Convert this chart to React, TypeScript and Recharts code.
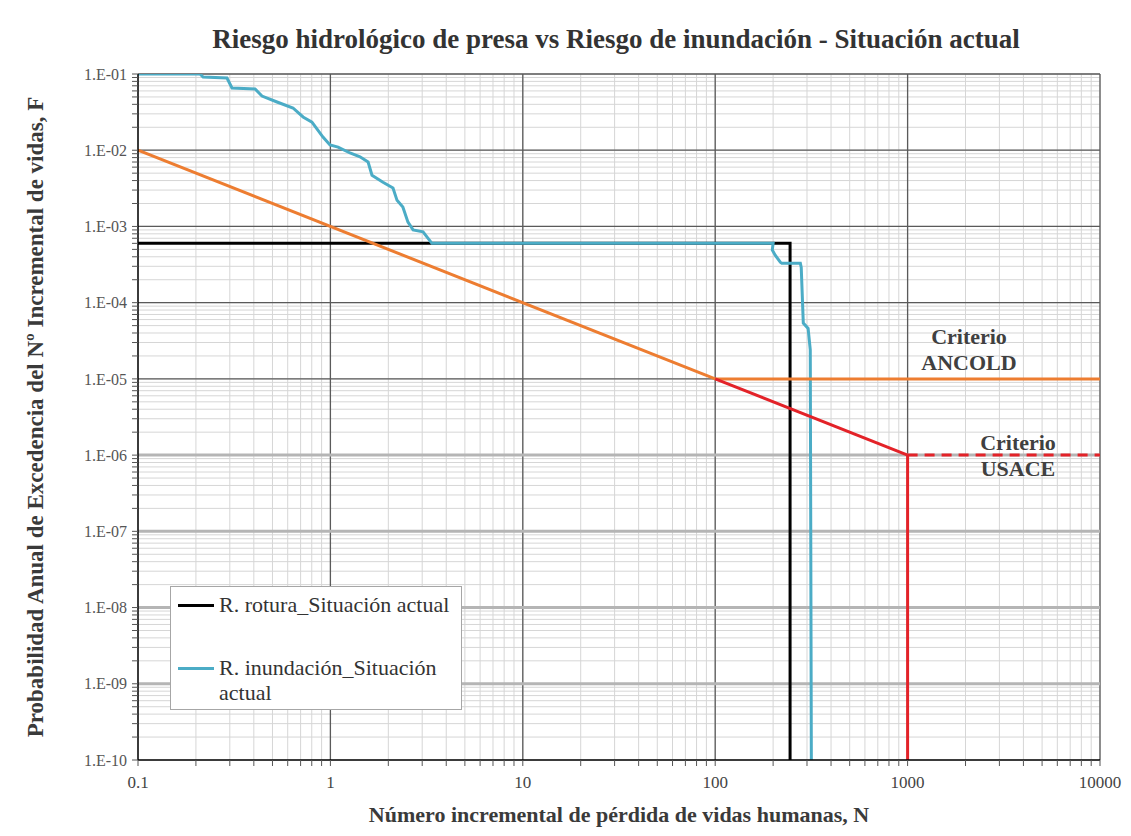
import { CartesianGrid, Label, Legend, Line, LineChart, ReferenceLine, XAxis, YAxis } from "recharts";

const W = 1131;
const H = 836;
const serif = '"Liberation Serif", "DejaVu Serif", serif';

// axis decades and their labels
const xDecades = [0.1, 1, 10, 100, 1000, 10000];
const xLabels = ["0.1", "1", "10", "100", "1000", "10000"];
const yDecades = [1e-10, 1e-9, 1e-8, 1e-7, 1e-6, 1e-5, 1e-4, 1e-3, 1e-2, 1e-1];
const yLabels = ["1.E-10", "1.E-09", "1.E-08", "1.E-07", "1.E-06", "1.E-05", "1.E-04", "1.E-03", "1.E-02", "1.E-01"];

// R. rotura_Situación actual
const roturaPoints = [
  { x: 0.1, y: 6e-4 },
  { x: 245, y: 6e-4 },
  { x: 245, y: 1e-10 },
];

// R. inundación_Situación actual
const inundacionPoints = [
  { x: 0.1, y: 0.1 },
  { x: 0.21, y: 0.1 },
  { x: 0.218, y: 0.0913 },
  { x: 0.29, y: 0.0886 },
  { x: 0.308, y: 0.0655 },
  { x: 0.406, y: 0.0636 },
  { x: 0.441, y: 0.0514 },
  { x: 0.528, y: 0.0429 },
  { x: 0.639, y: 0.0358 },
  { x: 0.721, y: 0.0273 },
  { x: 0.802, y: 0.0234 },
  { x: 0.915, y: 0.0149 },
  { x: 0.995, y: 0.0117 },
  { x: 1.096, y: 0.011 },
  { x: 1.265, y: 0.0092 },
  { x: 1.425, y: 0.0082 },
  { x: 1.57, y: 0.007 },
  { x: 1.645, y: 0.0047 },
  { x: 1.876, y: 0.0038 },
  { x: 2.115, y: 0.0032 },
  { x: 2.22, y: 0.0022 },
  { x: 2.38, y: 0.0018 },
  { x: 2.53, y: 0.00114 },
  { x: 2.69, y: 0.0009 },
  { x: 3.03, y: 0.00085 },
  { x: 3.37, y: 0.0006 },
  { x: 200, y: 0.0006 },
  { x: 198, y: 0.00049 },
  { x: 205, y: 0.00042 },
  { x: 218, y: 0.00034 },
  { x: 222, y: 0.00033 },
  { x: 277, y: 0.00033 },
  { x: 280, y: 0.00029 },
  { x: 287, y: 0.000054 },
  { x: 304, y: 0.000046 },
  { x: 312, y: 0.000024 },
  { x: 316, y: 1e-10 },
];

// criteria
const ancoldSlope = [
  { x: 0.1, y: 1e-2 },
  { x: 100, y: 1e-5 },
];
const ancoldFlat = [
  { x: 100, y: 1e-5 },
  { x: 10000, y: 1e-5 },
];
const usaceSlope = [
  { x: 100, y: 1e-5 },
  { x: 1000, y: 1e-6 },
];
const usaceFlat = [
  { x: 1000, y: 1e-6 },
  { x: 10000, y: 1e-6 },
];
const usaceDrop = [
  { x: 1000, y: 1e-6 },
  { x: 1000, y: 1e-10 },
];

const legendItems = [
  { label: "R. rotura_Situación actual", color: "#000000" },
  { label: "R. inundación_Situación actual", color: "#4BACC6" },
];

function minors(decades: number[]) {
  const out: number[] = [];
  for (let i = 0; i < decades.length - 1; i++) {
    for (let k = 2; k <= 9; k++) out.push(Number((decades[i] * k).toPrecision(6)));
  }
  return out;
}

const xTicks = [...xDecades, ...minors(xDecades)].sort((a, b) => a - b);
const yTicks = [...yDecades, ...minors(yDecades)].sort((a, b) => a - b);

const labelFor = (decades: number[], labels: string[]) => (v: number) => {
  const i = decades.findIndex((d) => Math.abs(v / d - 1) < 1e-6);
  return i >= 0 ? labels[i] : "";
};

function XTitle(props: any) {
  const vb = props.viewBox;
  return (
    <text x={vb.x + vb.width / 2} y={vb.y + 62} textAnchor="middle" fontFamily={serif} fontWeight="bold" fontSize={22} fill="#3a3a3a">
      Número incremental de pérdida de vidas humanas, N
    </text>
  );
}

function YTitle(props: any) {
  const vb = props.viewBox;
  const cx = 38;
  const cy = vb.y + vb.height / 2;
  return (
    <text x={cx} y={cy} transform={`rotate(-90 ${cx} ${cy})`} textAnchor="middle" dominantBaseline="middle" fontFamily={serif} fontWeight="bold" fontSize={23} fill="#3a3a3a">
      Probabilidad Anual de Excedencia del Nº Incremental de vidas, F
    </text>
  );
}

function LegendBox() {
  return (
    <div style={{ position: "relative", width: 292, height: 124, boxSizing: "border-box", border: "1px solid #a6a6a6", background: "#fff" }}>
      {legendItems.map((it, i) => (
        <div key={it.label}>
          <div style={{ position: "absolute", left: 7, top: (i === 0 ? 18 : 81) - 1.5, width: 36, height: 3, background: it.color }} />
          <div style={{ position: "absolute", left: 48, top: (i === 0 ? 18 : 81) - 13, width: 240, lineHeight: "25px", fontFamily: serif, fontSize: 22, color: "#333", textAlign: "left" }}>
            {it.label}
          </div>
        </div>
      ))}
    </div>
  );
}

const noteStyle: any = {
  position: "absolute",
  transform: "translateX(-50%)",
  textAlign: "center",
  fontFamily: serif,
  fontWeight: "bold",
  fontSize: 22,
  lineHeight: "26px",
  color: "#404040",
  whiteSpace: "nowrap",
};

export default function App() {
  return (
    <div style={{ position: "absolute", left: 0, top: 0, width: W, height: H, background: "#fff" }}>
      <div style={{ position: "absolute", left: 616, top: 24, transform: "translateX(-50%)", whiteSpace: "nowrap", fontFamily: serif, fontWeight: "bold", fontSize: 27, lineHeight: "30px", color: "#333" }}>
        Riesgo hidrológico de presa vs Riesgo de inundación - Situación actual
      </div>
      <LineChart width={W} height={H} margin={{ top: 74, right: 31, bottom: 0, left: 0 }}>
        <CartesianGrid stroke="#d6d6d6" strokeWidth={1} />
        <XAxis
          dataKey="x"
          type="number"
          scale="log"
          domain={[0.1, 10000]}
          allowDataOverflow
          ticks={xTicks}
          interval={0}
          tickFormatter={labelFor(xDecades, xLabels)}
          height={76}
          tickSize={6}
          tickMargin={10}
          axisLine={{ stroke: "#000", strokeWidth: 1.5 }}
          tickLine={{ stroke: "#555" }}
          tick={{ fontFamily: serif, fontSize: 17, fill: "#444" }}
          label={<Label content={XTitle} />}
        />
        <YAxis
          type="number"
          scale="log"
          domain={[1e-10, 0.1]}
          allowDataOverflow
          ticks={yTicks}
          interval={0}
          tickFormatter={labelFor(yDecades, yLabels)}
          width={138}
          tickSize={6}
          tickMargin={5}
          axisLine={{ stroke: "#000", strokeWidth: 1.5 }}
          tickLine={{ stroke: "#555" }}
          tick={{ fontFamily: serif, fontSize: 16, fill: "#555" }}
          label={<Label content={YTitle} />}
        />
        {xDecades.slice(1).map((v) => (
          <ReferenceLine key={`vx${v}`} x={v} stroke="#5a5a5a" strokeWidth={1.3} />
        ))}
        {yDecades.slice(1).map((v) => (
          <ReferenceLine key={`hy${v}`} y={v} stroke={v <= 1e-6 ? "#b5b5b5" : "#5a5a5a"} strokeWidth={v <= 1e-6 ? 3 : 1.3} />
        ))}
        <Line data={roturaPoints} dataKey="y" stroke="#000" strokeWidth={3} dot={false} isAnimationActive={false} />
        <Line data={inundacionPoints} dataKey="y" stroke="#4BACC6" strokeWidth={3} dot={false} isAnimationActive={false} />
        <Line data={ancoldSlope} dataKey="y" stroke="#ED7D31" strokeWidth={3} dot={false} isAnimationActive={false} />
        <Line data={ancoldFlat} dataKey="y" stroke="#ED7D31" strokeWidth={3} dot={false} isAnimationActive={false} />
        <Line data={usaceSlope} dataKey="y" stroke="#E32228" strokeWidth={3} dot={false} isAnimationActive={false} />
        <Line data={usaceFlat} dataKey="y" stroke="#E32228" strokeWidth={3} strokeDasharray="10 7" dot={false} isAnimationActive={false} />
        <Line data={usaceDrop} dataKey="y" stroke="#E32228" strokeWidth={3} dot={false} isAnimationActive={false} />
        <Legend layout="vertical" align="center" verticalAlign="middle" content={LegendBox} wrapperStyle={{ position: "absolute", left: 170, top: 586, width: 292, height: 124 }} />
      </LineChart>
      <div style={{ ...noteStyle, left: 969, top: 324 }}>
        Criterio
        <br />
        ANCOLD
      </div>
      <div style={{ ...noteStyle, left: 1018, top: 430 }}>
        Criterio
        <br />
        USACE
      </div>
    </div>
  );
}
